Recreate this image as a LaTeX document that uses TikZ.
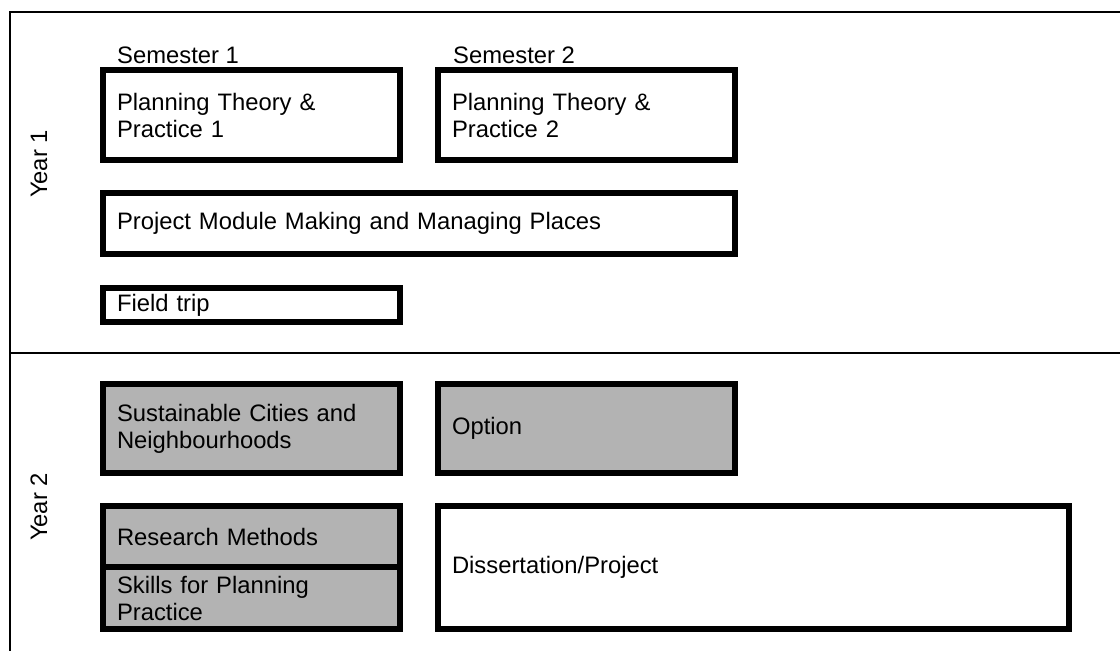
\documentclass[tikz,border=0pt]{standalone}
\usepackage{fontspec}
\setmainfont{Liberation Sans}
\usetikzlibrary{positioning}
\definecolor{modgray}{RGB}{179,179,179}

\begin{document}
\begin{tikzpicture}[x=1pt, y=-1pt,
    every node/.style={font=\fontsize{23.8}{27}\selectfont},
    mod/.style={draw, line width=6pt, outer sep=0pt, inner xsep=14pt,
        inner ysep=0pt, align=left},
    modg/.style={mod, fill=modgray},
    half/.style={minimum width=297pt, text width=269pt},
    full/.style={minimum width=632pt, text width=604pt},
    lbl/.style={inner sep=0pt, anchor=base west}]
    \useasboundingbox (0,0) rectangle (1120,651);

    % frame
    \draw[line width=2.2pt] (1120,12) -- (10,12) -- (10,651);
    \draw[line width=2.2pt] (10,353) -- (1120,353);

    % year 1
    \node[mod, half, minimum height=90pt, anchor=north west] (ptpa) at (103,70)
        {Planning Theory \&\\Practice 1};
    \node[mod, half, minimum height=90pt, right=38pt of ptpa] (ptpb)
        {Planning Theory \&\\Practice 2};
    \node[lbl] (sema) at (117,63) {Semester 1};
    \node[lbl] (semb) at (453,63) {Semester 2};
    \node[mod, full, minimum height=61pt, below right=33pt and 0pt of ptpa.south west] (pm)
        {Project Module Making and Managing Places};
    \node[mod, half, minimum height=34pt, below right=34pt and 0pt of pm.south west] (ft)
        {Field trip};
    \node[rotate=90] (yra) at (39,164) {Year 1};

    % year 2
    \node[modg, half, minimum height=89pt, anchor=north west] (scn) at (103,384)
        {Sustainable Cities and\\Neighbourhoods};
    \node[modg, half, minimum height=89pt, right=38pt of scn] (opt) {Option};
    \node[modg, half, minimum height=61pt, below right=33pt and 0pt of scn.south west] (rm)
        {Research Methods};
    \node[modg, half, minimum height=62pt, below right=0pt and 0pt of rm.south west] (sfp)
        {Skills for Planning\\Practice};
    \node[mod, minimum width=631pt, text width=603pt, minimum height=123pt,
        below right=33pt and 0pt of opt.south west] (diss) {Dissertation/Project};
    \node[rotate=90] (yrb) at (39,507) {Year 2};
\end{tikzpicture}
\end{document}
